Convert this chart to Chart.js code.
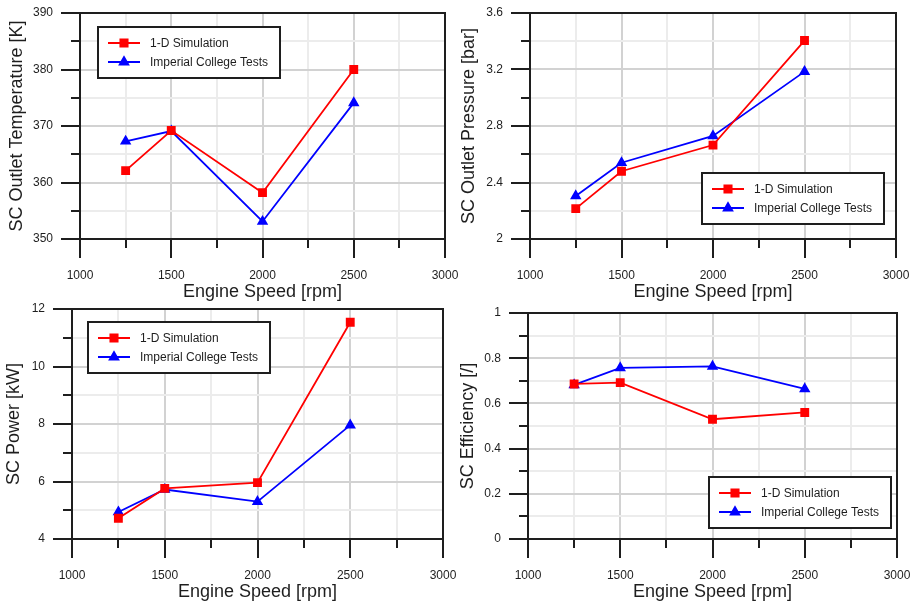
<!DOCTYPE html>
<html><head><meta charset="utf-8">
<script src="https://cdn.jsdelivr.net/npm/chart.js@4/dist/chart.umd.min.js"></script>
<style>
html,body{margin:0;padding:0;background:#fff;width:913px;height:603px;overflow:hidden;position:relative}
canvas{position:absolute}
</style></head><body>
<canvas id="c1" width="470" height="303" style="left:0;top:0"></canvas>
<canvas id="c2" width="457" height="303" style="left:456px;top:0"></canvas>
<canvas id="c3" width="470" height="303" style="left:0;top:300px"></canvas>
<canvas id="c4" width="457" height="303" style="left:456px;top:300px"></canvas>
<script>
// ---- data ----
const engineSpeed = [1250, 1500, 2000, 2500];
const seriesNames = ['1-D Simulation', 'Imperial College Tests'];
const tempSim  = [362.1, 369.2, 358.2, 380.0];
const tempTest = [367.3, 369.1, 353.1, 374.1];
const pressSim  = [2.215, 2.48, 2.665, 3.405];
const pressTest = [2.305, 2.54, 2.73, 3.185];
const powerSim  = [4.72, 5.76, 5.96, 11.54];
const powerTest = [4.94, 5.72, 5.30, 7.96];
const effSim  = [0.686, 0.692, 0.530, 0.560];
const effTest = [0.682, 0.757, 0.764, 0.664];
// major tick labels
const speedTicks = [1000, 1500, 2000, 2500, 3000];
const tempTicks  = [350, 360, 370, 380, 390];
const pressTicks = [2, 2.4, 2.8, 3.2, 3.6];
const powerTicks = [4, 6, 8, 10, 12];
const effTicks   = [0, 0.2, 0.4, 0.6, 0.8, 1];

const FONT = "'Liberation Sans', Arial, sans-serif";
const AXIS = '#1e1e1e';
const GRID_MAJOR = '#d2d2d2';
const GRID_MINOR = '#ececec';
const MAJOR_LEN = 19, MINOR_LEN = 9, X_GAP = 10, Y_GAP = 8;

const boxPlugin = {
  id: 'boxLegend',
  beforeDatasetsDraw(chart) {
    const {ctx, chartArea: a} = chart;
    const xs = chart.scales.x, ys = chart.scales.y;
    ctx.save();
    ctx.strokeStyle = AXIS; ctx.lineWidth = 2;
    ctx.beginPath();
    xs.ticks.forEach((t, i) => {
      const p = Math.round(xs.getPixelForValue(t.value));
      const len = i % 2 === 0 ? MAJOR_LEN : MINOR_LEN;
      ctx.moveTo(p, a.bottom); ctx.lineTo(p, a.bottom + len);
    });
    ys.ticks.forEach((t, i) => {
      const p = Math.round(ys.getPixelForValue(t.value));
      const len = i % 2 === 0 ? MAJOR_LEN : MINOR_LEN;
      ctx.moveTo(a.left - len, p); ctx.lineTo(a.left, p);
    });
    ctx.stroke();
    ctx.strokeRect(a.left, a.top, a.right - a.left, a.bottom - a.top);
    ctx.restore();
  },
  afterDraw(chart, args, o) {
    const {ctx, chartArea: a} = chart;
    ctx.save();
    ctx.font = '12px ' + FONT;
    let tw = 0;
    chart.data.datasets.forEach(ds => { tw = Math.max(tw, ctx.measureText(ds.label).width); });
    const w = Math.round(52 + tw + 12), h = 51;
    const x = o.corner[1] === 'l' ? a.left + o.dx : a.right - o.dx - w;
    const y = o.corner[0] === 't' ? a.top + o.dy : a.bottom - o.dy - h;
    ctx.fillStyle = '#fff';
    ctx.fillRect(x, y, w, h);
    ctx.strokeStyle = AXIS; ctx.lineWidth = 2;
    ctx.strokeRect(x, y, w, h);
    chart.data.datasets.forEach((ds, i) => {
      const cy = y + 16 + i * 19;
      ctx.strokeStyle = ds.borderColor; ctx.lineWidth = 2;
      ctx.beginPath(); ctx.moveTo(x + 10, cy); ctx.lineTo(x + 42, cy); ctx.stroke();
      ctx.fillStyle = ds.pointBackgroundColor; ctx.strokeStyle = ds.pointBorderColor;
      Chart.helpers.drawPoint(ctx, {pointStyle: ds.pointStyle, rotation: 0, borderWidth: 1, radius: ds.pointRadius}, x + 26, cy);
      ctx.fillStyle = '#1e1e1e';
      ctx.textBaseline = 'middle'; ctx.textAlign = 'left';
      ctx.fillText(ds.label, x + 52, cy + 1);
    });
    ctx.restore();
  }
};

function makeChart(id, sim, test, yTicks, yTitle, lay) {
  const xStep = (speedTicks[1] - speedTicks[0]) / 2;
  const yStep = (yTicks[1] - yTicks[0]) / 2;
  const gridColor = c => (c.index % 2 === 0 ? GRID_MAJOR : GRID_MINOR);
  const pts = arr => engineSpeed.map((s, i) => ({x: s, y: arr[i]}));
  return new Chart(document.getElementById(id), {
    type: 'line',
    data: {
      datasets: [
        {label: seriesNames[0], data: pts(sim), borderColor: '#ff0000', backgroundColor: '#ff0000',
         pointBackgroundColor: '#ff0000', pointBorderColor: '#ff0000', pointStyle: 'rect', pointRadius: 5, borderWidth: 1.8, tension: 0},
        {label: seriesNames[1], data: pts(test), borderColor: '#0000ff', backgroundColor: '#0000ff',
         pointBackgroundColor: '#0000ff', pointBorderColor: '#0000ff', pointStyle: 'triangle', pointRadius: 4.8, borderWidth: 1.8, tension: 0}
      ]
    },
    options: {
      responsive: false, animation: false, devicePixelRatio: 1,
      layout: {padding: {top: lay.top, right: lay.right, left: 0, bottom: 0}},
      plugins: {legend: {display: false}, tooltip: {enabled: false},
        boxLegend: {corner: lay.corner, dx: lay.dx, dy: lay.dy}},
      scales: {
        x: {
          type: 'linear', min: speedTicks[0], max: speedTicks[speedTicks.length - 1],
          afterFit: s => { s.height = 64; },
          ticks: {stepSize: xStep, autoSkip: false, maxRotation: 0, padding: 0, color: '#1e1e1e',
            font: {family: FONT, size: 12},
            callback: (v, i) => (i % 2 === 0 ? String(speedTicks[i / 2]) : '')},
          grid: {color: gridColor, lineWidth: 2, tickLength: MAJOR_LEN + X_GAP, tickColor: 'rgba(0,0,0,0)', drawTicks: true},
          border: {display: true, color: AXIS, width: 2},
          title: {display: true, text: 'Engine Speed [rpm]', color: '#1e1e1e', font: {family: FONT, size: 18}, padding: {top: 0, bottom: 0}}
        },
        y: {
          type: 'linear', min: yTicks[0], max: yTicks[yTicks.length - 1],
          afterFit: s => { s.width = lay.yw; },
          ticks: {stepSize: yStep, autoSkip: false, padding: 0, color: '#1e1e1e',
            font: {family: FONT, size: 12},
            callback: (v, i) => (i % 2 === 0 ? String(yTicks[i / 2]) : '')},
          grid: {color: gridColor, lineWidth: 2, tickLength: MAJOR_LEN + Y_GAP, tickColor: 'rgba(0,0,0,0)', drawTicks: true},
          border: {display: true, color: AXIS, width: 2},
          title: {display: true, text: yTitle, color: '#1e1e1e', font: {family: FONT, size: 18}, padding: {top: lay.tp, bottom: 0}}
        }
      }
    },
    plugins: [boxPlugin]
  });
}

makeChart('c1', tempSim, tempTest, tempTicks, 'SC Outlet Temperature [K]', {top: 13, right: 25, yw: 80, tp: 6, corner: 'tl', dx: 18, dy: 14});
makeChart('c2', pressSim, pressTest, pressTicks, 'SC Outlet Pressure [bar]', {top: 13, right: 17, yw: 74, tp: 2, corner: 'br', dx: 12, dy: 15});
makeChart('c3', powerSim, powerTest, powerTicks, 'SC Power [kW]', {top: 9, right: 27, yw: 72, tp: 3, corner: 'tl', dx: 16, dy: 13});
makeChart('c4', effSim, effTest, effTicks, 'SC Efficiency [/]', {top: 13, right: 16, yw: 72, tp: 1, corner: 'br', dx: 6, dy: 11});
</script>
</body></html>
